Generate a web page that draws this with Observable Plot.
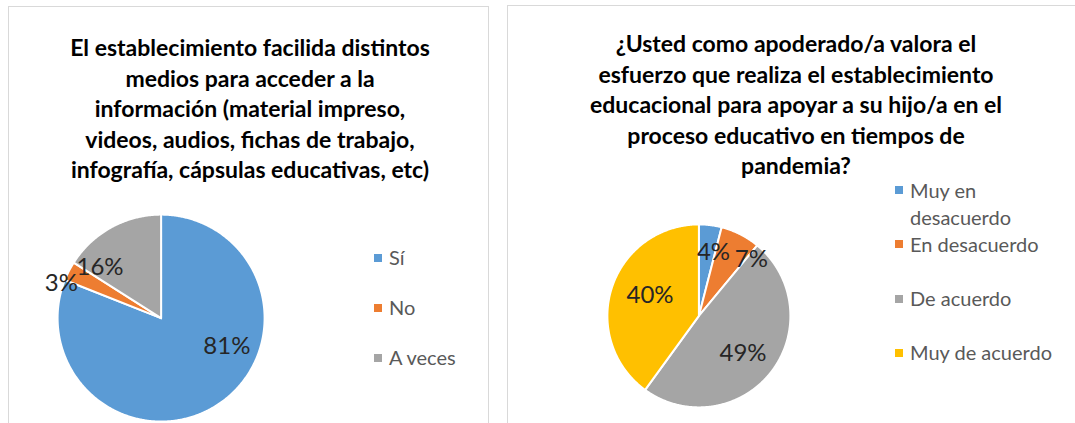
<!DOCTYPE html>
<html><head><meta charset="utf-8">
<script src="https://cdn.jsdelivr.net/npm/d3@7"></script>
<script src="https://cdn.jsdelivr.net/npm/@observablehq/plot@0.6"></script>
<style>
html,body{margin:0;padding:0;background:#fff;}
body{width:1075px;height:423px;position:relative;overflow:hidden;font-family:Lato,'Open Sans',sans-serif;}
.panel{position:absolute;border:1px solid #d9d9d9;box-sizing:border-box;}
.title{position:absolute;text-align:center;font-weight:bold;color:#000;font-size:23px;line-height:30.5px;white-space:nowrap;}
.pie{position:absolute;}
.legend{position:absolute;color:#595959;font-size:20px;line-height:27px;}
.item{position:absolute;left:0;display:flex;align-items:flex-start;}
.swatch{width:8px;height:8px;margin-top:9.5px;margin-right:7px;flex:none;}
</style></head><body>
<script>
// ---------- data ----------
const title1Lines = [
  "El establecimiento facilida distintos",
  "medios para acceder a la",
  "información (material impreso,",
  "videos, audios, fichas de trabajo,",
  "infografía, cápsulas educativas, etc)"
];
const categories1 = ["Sí", "No", "A veces"];
const values1 = [81, 3, 16];

const title2Lines = [
  "¿Usted como apoderado/a valora el",
  "esfuerzo que realiza el establecimiento",
  "educacional para apoyar a su hijo/a en el",
  "proceso educativo en tiempos de",
  "pandemia?"
];
const categories2 = ["Muy en desacuerdo", "En desacuerdo", "De acuerdo", "Muy de acuerdo"];
const values2 = [4, 7, 49, 40];

// ---------- style / layout ----------
const colors = ["#5B9BD5", "#ED7D31", "#A5A5A5", "#FFC000"];
// label anchors: angle (deg clockwise from 12 o'clock) and radius fraction
const labelAngle1 = [113, 289, 310];
const labelRadius1 = [0.69, 1.02, 0.77];
const labelAngle2 = [13, 43, 130, 293];
const labelRadius2 = [0.71, 0.84, 0.63, 0.58];

function el(tag, cls, css, parent) {
  const e = document.createElement(tag);
  if (cls) e.className = cls;
  Object.assign(e.style, css || {});
  (parent || document.body).appendChild(e);
  return e;
}

function pieChart(cats, vals, lAng, lRad, rPx, cx, cy) {
  const total = d3.sum(vals);
  const cum = Array.from(d3.cumsum(vals));
  const pts = [];
  cats.forEach((c, i) => {
    const a0 = (cum[i] - vals[i]) / total * 2 * Math.PI;
    const a1 = cum[i] / total * 2 * Math.PI;
    const n = Math.max(2, Math.ceil((a1 - a0) / (Math.PI / 360)));
    pts.push({cat: c, x: 0, y: 0});
    for (let k = 0; k <= n; k++) {
      const a = a0 + (a1 - a0) * k / n;
      pts.push({cat: c, x: Math.sin(a), y: Math.cos(a)});
    }
    pts.push({cat: c, x: 0, y: 0});
  });
  const labels = cats.map((c, i) => {
    const a = lAng[i] * Math.PI / 180;
    return {text: vals[i] + "%", x: lRad[i] * Math.sin(a), y: lRad[i] * Math.cos(a)};
  });
  const D = 1.6;
  const size = 2 * D * rPx;
  const svg = Plot.plot({
    width: size, height: size, margin: 0,
    x: {domain: [-D, D], axis: null},
    y: {domain: [-D, D], axis: null},
    color: {domain: cats, range: colors},
    style: {overflow: "visible", background: "transparent", fontFamily: "Lato, 'Open Sans', sans-serif"},
    marks: [
      Plot.line(pts, {x: "x", y: "y", z: "cat", fill: "cat", stroke: "white", strokeWidth: 2, strokeLinejoin: "round"}),
      Plot.text(labels, {x: "x", y: "y", text: "text", fontSize: 24, fill: "#262626"})
    ]
  });
  const wrap = el("div", "pie", {left: (cx - size / 2) + "px", top: (cy - size / 2) + "px"});
  wrap.appendChild(svg);
}

function title(lines, left, width, top) {
  const t = el("div", "title", {left: left + "px", width: width + "px", top: top + "px"});
  t.innerHTML = lines.map(s => s.replace(/&/g, "&amp;")).join("<br>");
}

function legend(cats, left, top, slot, textWidth) {
  const lg = el("div", "legend", {left: left + "px", top: top + "px"});
  cats.forEach((c, i) => {
    const it = el("div", "item", {top: (i * slot) + "px"}, lg);
    el("div", "swatch", {background: colors[i]}, it);
    const tx = el("div", null, {width: textWidth + "px"}, it);
    tx.textContent = c;
  });
}

// panels
el("div", "panel", {left: "8px", top: "6px", width: "481px", height: "440px"});
el("div", "panel", {left: "507px", top: "5px", width: "590px", height: "440px"});

pieChart(categories1, values1, labelAngle1, labelRadius1, 103.5, 160.7, 317.7);
pieChart(categories2, values2, labelAngle2, labelRadius2, 91.5, 698.5, 315.5);

title(title1Lines, 10, 480, 32);
title(title2Lines, 507, 578, 28);

legend(categories1, 374, 244, 50, 120);
legend(categories2, 895, 176.5, 54.3, 150);
</script>
</body></html>
